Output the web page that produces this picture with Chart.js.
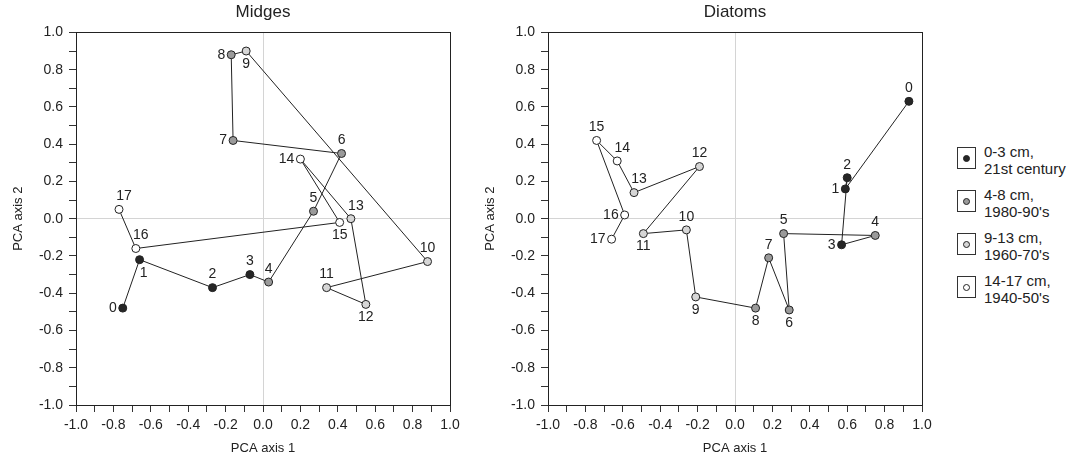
<!DOCTYPE html>
<html>
<head>
<meta charset="utf-8">
<script src="https://cdn.jsdelivr.net/npm/chart.js@4.4.1/dist/chart.umd.min.js"></script>
<style>
  body { margin: 0; background: #fff; font-family: "Liberation Sans", Arial, sans-serif; }
  #wrap { position: relative; width: 1073px; height: 461px; }
  .box { position: absolute; width: 470px; height: 461px; top: 0; }
  #legend { position: absolute; left: 957px; top: 0; color: #222; font-size: 15px; line-height: 17px; }
  .item { position: absolute; left: 0; width: 120px; }
  .sw { position: absolute; left: 0; top: 2px; width: 19px; height: 22px; border: 1px solid #333; box-sizing: border-box; }
  .sw i { position: absolute; left: 5px; top: 7px; width: 7px; height: 7px; border: 1px solid #222; border-radius: 50%; box-sizing: border-box; }
  .txt { position: absolute; left: 27px; top: -2px; white-space: nowrap; }
</style>
</head>
<body>
<div id="wrap">
  <div class="box" style="left:0"><canvas id="midges"></canvas></div>
  <div class="box" style="left:472px"><canvas id="diatoms"></canvas></div>
  <div id="legend"></div>
</div>
<script>
// sample number = depth index 0..17
var samples = [0,1,2,3,4,5,6,7,8,9,10,11,12,13,14,15,16,17];
// which depth group each sample belongs to
var sampleGroup = [0,0,0,0,1,1,1,1,1,2,2,2,2,2,3,3,3,3];

var groupNames = [['0-3 cm,', '21st century'], ['4-8 cm,', '1980-90\'s'], ['9-13 cm,', '1960-70\'s'], ['14-17 cm,', '1940-50\'s']];
var groupColors = ['#262626', '#9a9a9a', '#d6d6d6', '#ffffff'];

// Midges PCA scores
var midgesX = [-0.75,-0.66,-0.27,-0.07,0.03,0.27,0.42,-0.16,-0.17,-0.09,0.88,0.34,0.55,0.47,0.20,0.41,-0.68,-0.77];
var midgesY = [-0.48,-0.22,-0.37,-0.30,-0.34,0.04,0.35,0.42,0.88,0.90,-0.23,-0.37,-0.46,0.00,0.32,-0.02,-0.16,0.05];
// where each number sits next to its point
var midgesSide = ['l','br','a','a','a','a','a','l','l','b','a','a','b','ar','l','b','ar','ar'];

// Diatoms PCA scores
var diatomsX = [0.93,0.59,0.60,0.57,0.75,0.26,0.29,0.18,0.11,-0.21,-0.26,-0.49,-0.19,-0.54,-0.63,-0.74,-0.59,-0.66];
var diatomsY = [0.63,0.16,0.22,-0.14,-0.09,-0.08,-0.49,-0.21,-0.48,-0.42,-0.06,-0.08,0.28,0.14,0.31,0.42,0.02,-0.11];
var diatomsSide = ['a','l','a','l','a','a','b','a','b','b','a','b','a','ar','ar','a','l','l'];

var axisTicks = { min: -1, max: 1, step: 0.1 };

function tickLabel(v) {
  var n = Math.round(v * 10);
  if (n % 2 !== 0) return '';
  return (n / 10).toFixed(1);
}

var pointLabels = {
  id: 'pointLabels',
  afterDatasetsDraw: function(chart, args, opts) {
    var ctx = chart.ctx;
    var meta = chart.getDatasetMeta(0);
    ctx.save();
    ctx.font = '14px "Liberation Sans", Arial, sans-serif';
    ctx.fillStyle = '#222';
    ctx.textBaseline = 'middle';
    meta.data.forEach(function(pt, i) {
      var s = opts.side[i], x = pt.x, y = pt.y;
      ctx.textAlign = 'center';
      if (s === 'a') { y -= 13; }
      else if (s === 'b') { y += 13; }
      else if (s === 'l') { ctx.textAlign = 'right'; x -= 6; }
      else if (s === 'ar') { x += 5; y -= 13; }
      else if (s === 'br') { x += 4; y += 13; }
      ctx.fillText(String(samples[i]), x, y);
    });
    ctx.restore();
  }
};

var frame = {
  id: 'frame',
  beforeDatasetsDraw: function(chart) {
    var a = chart.chartArea, ctx = chart.ctx;
    ctx.save();
    ctx.strokeStyle = '#222';
    ctx.lineWidth = 1;
    ctx.strokeRect(Math.round(a.left) + 0.5, Math.round(a.top) + 0.5, Math.round(a.right - a.left), Math.round(a.bottom - a.top));
    ctx.restore();
  }
};

function makeAxis(title, isX) {
  return {
    type: 'linear',
    min: axisTicks.min,
    max: axisTicks.max,
    afterFit: function(scale) { if (isX) scale.height = 56; else scale.width = 76; },
    ticks: {
      stepSize: axisTicks.step,
      autoSkip: false,
      maxRotation: 0,
      padding: isX ? 5 : 6,
      color: '#222',
      font: { size: 14, family: '"Liberation Sans", Arial, sans-serif' },
      callback: function(v) { return tickLabel(v); }
    },
    grid: {
      drawOnChartArea: true,
      color: function(c) { return (c.tick && Math.abs(c.tick.value) < 1e-9) ? '#d4d4d4' : 'rgba(0,0,0,0)'; },
      tickColor: '#333',
      tickLength: 7,
      lineWidth: 1
    },
    border: { display: true, color: '#222', width: 1 },
    title: {
      display: true,
      text: title,
      color: '#222',
      font: { size: 13, family: '"Liberation Sans", Arial, sans-serif' },
      padding: isX ? { top: 0, bottom: 5 } : { top: 11, bottom: 0 }
    }
  };
}

function makeChart(id, name, xs, ys, side) {
  var pts = xs.map(function(x, i) { return { x: x, y: ys[i] }; });
  var fills = sampleGroup.map(function(g) { return groupColors[g]; });
  return new Chart(document.getElementById(id), {
    type: 'scatter',
    data: {
      datasets: [{
        data: pts,
        showLine: true,
        borderColor: '#222',
        borderWidth: 1,
        pointRadius: 4,
        pointHoverRadius: 4,
        pointBackgroundColor: fills,
        pointBorderColor: '#222',
        pointBorderWidth: 1
      }]
    },
    options: {
      responsive: true,
      maintainAspectRatio: false,
      animation: false,
      layout: { padding: { top: 0, right: 20, bottom: 0, left: 0 } },
      scales: {
        x: makeAxis('PCA axis 1', true),
        y: makeAxis('PCA axis 2', false)
      },
      plugins: {
        legend: { display: false },
        tooltip: { enabled: false },
        title: {
          display: true,
          text: name,
          fullSize: false,
          color: '#222',
          font: { size: 17, weight: 'normal', family: '"Liberation Sans", Arial, sans-serif' },
          padding: { top: 2, bottom: 10 }
        },
        pointLabels: { side: side }
      }
    },
    plugins: [frame, pointLabels]
  });
}

makeChart('midges', 'Midges', midgesX, midgesY, midgesSide);
makeChart('diatoms', 'Diatoms', diatomsX, diatomsY, diatomsSide);

var legend = document.getElementById('legend');
groupNames.forEach(function(lines, g) {
  var d = document.createElement('div');
  d.className = 'item';
  d.style.top = (145 + g * 43) + 'px';
  d.innerHTML = '<div class="sw"><i style="background:' + groupColors[g] + '"></i></div>' +
    '<div class="txt">' + lines[0] + '<br>' + lines[1] + '</div>';
  legend.appendChild(d);
});
</script>
</body>
</html>
